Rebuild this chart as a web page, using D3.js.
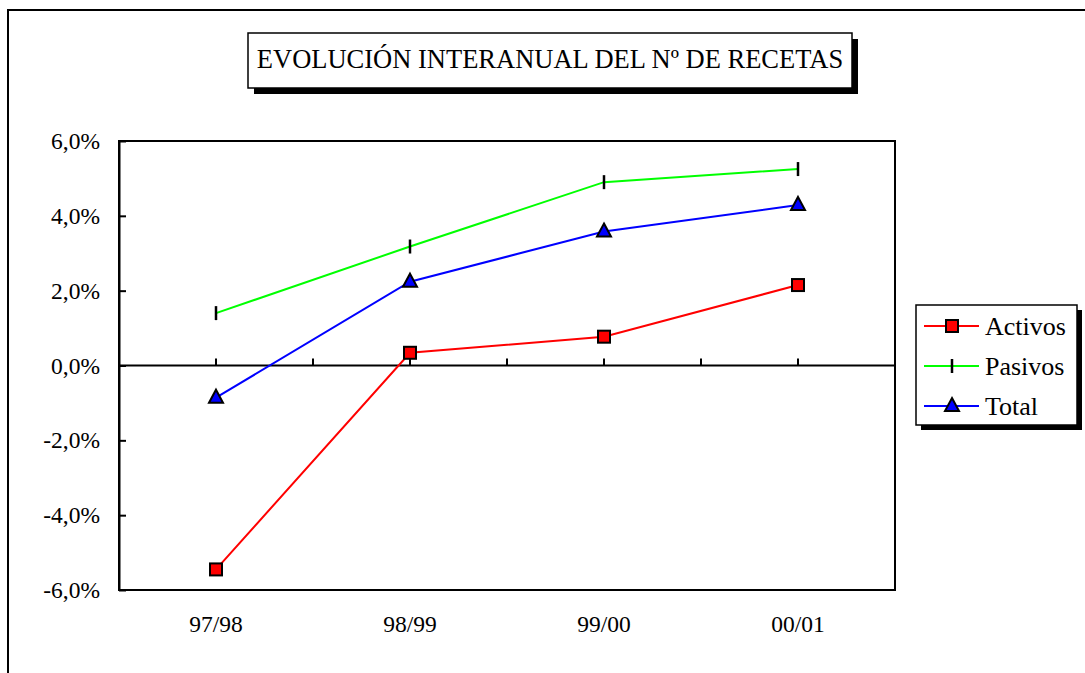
<!DOCTYPE html>
<html><head><meta charset="utf-8">
<script src="https://cdn.jsdelivr.net/npm/d3@7"></script>
<style>body{margin:0;background:#fff}svg{display:block}</style>
</head><body><svg id="c" width="1085" height="673"></svg>
<script>
const categories = ["97/98","98/99","99/00","00/01"];
const activos = [-5.45, 0.34, 0.77, 2.15];
const pasivos = [1.40, 3.18, 4.90, 5.25];
const total = [-0.86, 2.24, 3.58, 4.29];
const yTicks = [-6,-4,-2,0,2,4,6];
const title = "EVOLUCIÓN INTERANUAL DEL Nº DE RECETAS";
const seriesNames = ["Activos","Pasivos","Total"];
const seriesColors = ["#ff0000","#00ff00","#0000ff"];

const FONT = "'Liberation Serif','Times New Roman',serif";
const svg = d3.select("#c");
// outer frame (clipped)
svg.append("rect").attr("x",8).attr("y",10).attr("width",1200).attr("height",800)
  .attr("fill","none").attr("stroke","#000").attr("stroke-width",2);

const L=119,T=141,R=895,B=590;
const x = d3.scaleBand().domain(categories).range([L,R]);
const y = d3.scaleLinear().domain([-6,6]).range([B,T]);
const fmt = v => v.toFixed(1).replace(".",",")+"%";

// plot box
svg.append("rect").attr("x",L).attr("y",T).attr("width",R-L).attr("height",B-T)
  .attr("fill","#fff").attr("stroke","#000").attr("stroke-width",2);

// y axis
const yAxis = d3.axisLeft(y).tickValues(yTicks).tickFormat(fmt).tickSizeInner(-7).tickSizeOuter(0).tickPadding(19);
const ga = svg.append("g").attr("transform",`translate(${L},0)`).call(yAxis);
ga.select(".domain").attr("stroke-width",2);
ga.selectAll(".tick line").attr("stroke-width",2);
ga.selectAll("text").style("font-size","23.5px").style("font-family",FONT).attr("fill","#000");

// zero axis with ticks
svg.append("line").attr("x1",L).attr("x2",R).attr("y1",y(0)).attr("y2",y(0)).attr("stroke","#000").attr("stroke-width",2);
const tickXs = [];
categories.forEach(c=>{tickXs.push(x(c)); tickXs.push(x(c)+x.bandwidth()/2);});
svg.append("g").selectAll("line").data(tickXs.slice(1)).join("line")
  .attr("x1",d=>d).attr("x2",d=>d).attr("y1",y(0)).attr("y2",y(0)-7).attr("stroke","#000").attr("stroke-width",2);

// x labels
const xAxis = d3.axisBottom(x).tickSize(0).tickPadding(0);
const gx = svg.append("g").attr("transform",`translate(0,${B+34})`).call(xAxis);
gx.select(".domain").remove();
gx.selectAll("text").style("font-size","23.5px").style("font-family",FONT).attr("fill","#000").attr("dy","0.35em");

const cx = c => x(c)+x.bandwidth()/2;
const data = [activos,pasivos,total];
const line = d3.line().x((d,i)=>cx(categories[i])).y(d=>y(d));

function marker(g, k, px, py){
  if(k===0) g.append("rect").attr("x",px-6).attr("y",py-6).attr("width",12).attr("height",12)
      .attr("fill","#ff0000").attr("stroke","#000").attr("stroke-width",2);
  else if(k===1) g.append("line").attr("x1",px).attr("x2",px).attr("y1",py-7).attr("y2",py+7)
      .attr("stroke","#000").attr("stroke-width",2.5);
  else g.append("path").attr("d",`M${px},${py-8}L${px+7},${py+5}L${px-7},${py+5}Z`)
      .attr("fill","#0000ff").attr("stroke","#000").attr("stroke-width",2).attr("stroke-linejoin","miter");
}

data.forEach((s,k)=>{
  svg.append("path").datum(s).attr("d",line).attr("fill","none").attr("stroke",seriesColors[k]).attr("stroke-width",2);
});
data.forEach((s,k)=>{
  const g = svg.append("g");
  s.forEach((v,i)=>marker(g,k,cx(categories[i]),y(v)));
});

// title box
svg.append("rect").attr("x",254).attr("y",39).attr("width",604).attr("height",55).attr("fill","#000");
svg.append("rect").attr("x",248).attr("y",33).attr("width",604).attr("height",55).attr("fill","#fff").attr("stroke","#000").attr("stroke-width",1.5);
svg.append("text").attr("x",550).attr("y",59).attr("text-anchor","middle").attr("dominant-baseline","central")
  .style("font-size","26.5px").style("font-family",FONT).attr("fill","#000").text(title);

// legend
svg.append("rect").attr("x",921).attr("y",310).attr("width",161).attr("height",120).attr("fill","#000");
svg.append("rect").attr("x",916).attr("y",305).attr("width",161).attr("height",120).attr("fill","#fff").attr("stroke","#000").attr("stroke-width",1.5);
seriesNames.forEach((n,k)=>{
  const ly = 326 + k*40;
  const g = svg.append("g");
  g.append("line").attr("x1",924).attr("x2",979).attr("y1",ly).attr("y2",ly).attr("stroke",seriesColors[k]).attr("stroke-width",2);
  marker(g,k,952,ly);
  g.append("text").attr("x",985).attr("y",ly).attr("dominant-baseline","central")
    .style("font-size","26px").style("font-family",FONT).attr("fill","#000").text(n);
});
</script></body></html>
